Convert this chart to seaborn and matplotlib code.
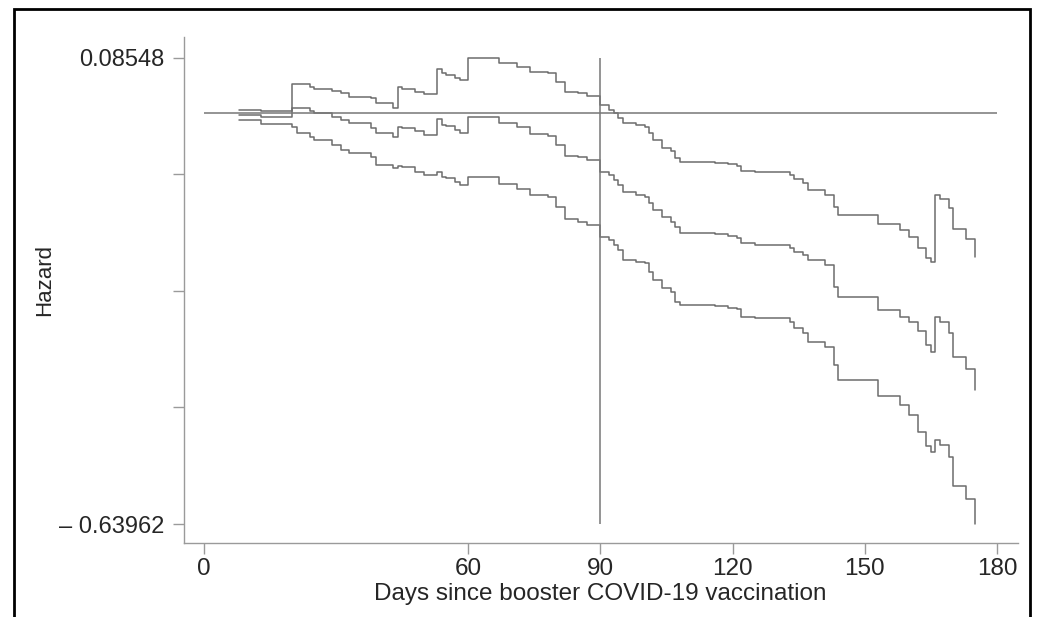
import matplotlib
matplotlib.use("Agg")
import matplotlib.pyplot as plt
import seaborn as sns
import pandas as pd
from matplotlib.patches import Rectangle

# ---- data ----
days = [8, 13, 20, 21, 24, 25, 29, 31, 33, 38,
        39, 43, 44, 45, 48, 50, 53, 54, 55, 57,
        58, 60, 67, 71, 74, 78, 80, 82, 85, 87,
        90, 92, 93, 94, 95, 98, 100, 101, 102, 104,
        106, 107, 108, 116, 119, 121, 122, 125, 133, 134,
        136, 137, 141, 143, 144, 153, 158, 160, 162, 164,
        165, 166, 167, 169, 170, 173, 175]

upper = [0.0042, 0.0031, 0.0446, 0.0446, 0.0404, 0.0368, 0.0342, 0.0301, 0.0249, 0.0224,
         0.0146, 0.0068, 0.0395, 0.0364, 0.0327, 0.0291, 0.0680, 0.0612, 0.0586, 0.0534,
         0.0508, 0.08548, 0.0768, 0.0715, 0.0628, 0.0612, 0.0473, 0.0327, 0.0301, 0.0255,
         0.0120, 0.0042, -0.0010, -0.0087, -0.0165, -0.0190, -0.0227, -0.0320, -0.0425, -0.0554,
         -0.0590, -0.0710, -0.0762, -0.0778, -0.0800, -0.0829, -0.0902, -0.0918, -0.0969, -0.1036,
         -0.1098, -0.1202, -0.1280, -0.1462, -0.1596, -0.1731, -0.1824, -0.1928, -0.2109, -0.2264,
         -0.2317, -0.1280, -0.1347, -0.1487, -0.1813, -0.1969, -0.2239]

estimate = [-0.0041, -0.0072, 0.0068, 0.0068, 0.0031, -0.0010, -0.0072, -0.0114, -0.0165, -0.0243,
            -0.0320, -0.0373, -0.0218, -0.0243, -0.0280, -0.0347, -0.0103, -0.0191, -0.0210, -0.0270,
            -0.0320, -0.0072, -0.0165, -0.0227, -0.0336, -0.0357, -0.0502, -0.0673, -0.0694, -0.0736,
            -0.0918, -0.0969, -0.1047, -0.1124, -0.1228, -0.1280, -0.1306, -0.1409, -0.1513, -0.1617,
            -0.1695, -0.1773, -0.1875, -0.1890, -0.1917, -0.1953, -0.2031, -0.2057, -0.2109, -0.2161,
            -0.2213, -0.2290, -0.2368, -0.2706, -0.2870, -0.3068, -0.3172, -0.3250, -0.3400, -0.3620,
            -0.3720, -0.3182, -0.3250, -0.3430, -0.3804, -0.3990, -0.4312]

lower = [-0.0118, -0.0176, -0.0227, -0.0320, -0.0373, -0.0425, -0.0502, -0.0580, -0.0632, -0.0684,
         -0.0813, -0.0865, -0.0829, -0.0850, -0.0917, -0.0969, -0.0917, -0.0995, -0.1020, -0.1073,
         -0.1124, -0.1005, -0.1109, -0.1192, -0.1280, -0.1306, -0.1462, -0.1658, -0.1695, -0.1747,
         -0.1928, -0.1980, -0.2057, -0.2135, -0.2290, -0.2317, -0.2342, -0.2472, -0.2602, -0.2731,
         -0.2783, -0.2939, -0.2990, -0.3006, -0.3030, -0.3058, -0.3172, -0.3198, -0.3250, -0.3353,
         -0.3420, -0.3561, -0.3639, -0.3923, -0.4156, -0.4405, -0.4545, -0.4701, -0.4960, -0.5183,
         -0.5271, -0.5090, -0.5167, -0.5349, -0.5805, -0.6012, -0.63962]

y_ticks = [0.08548, -0.09580, -0.27707, -0.45835, -0.63962]
y_ticklabels = ["0.08548", "", "", "", "\u2013 0.63962"]
x_ticks = [0, 60, 90, 120, 150, 180]
x_ticklabels = ["0", "60", "90", "120", "150", "180"]
ref_day = 90
ref_hazard = 0.0

# ---- styling ----
sns.set_style("white")
plt.rcParams["font.family"] = ["Liberation Sans", "DejaVu Sans"]
narrow = ["Liberation Sans Narrow", "Liberation Sans", "DejaVu Sans"]

W, H = 1045, 617
fig = plt.figure(figsize=(W / 100, H / 100), dpi=100)
ax = fig.add_axes([184 / W, (H - 543) / H, (1018 - 184) / W, (543 - 37) / H])

df = pd.DataFrame({"day": days, "upper": upper, "estimate": estimate, "lower": lower})
line_col = "#6c6c6c"
for col in ["upper", "estimate", "lower"]:
    sns.lineplot(data=df, x="day", y=col, ax=ax, color=line_col, lw=1.1,
                 drawstyle="steps-post", estimator=None, sort=False)

ax.hlines(ref_hazard, x_ticks[0], x_ticks[-1], color="#777777", lw=1.1)
ax.vlines(ref_day, y_ticks[-1], y_ticks[0], color="#777777", lw=1.1)

# axis ranges (plot region 0-180 and data extremes with margins)
ax.set_xlim(-4.54, 184.77)
ax.set_ylim(-0.66915, 0.11767)

for s in ["top", "right"]:
    ax.spines[s].set_visible(False)
for s in ["left", "bottom"]:
    ax.spines[s].set_color("#9a9a9a")
    ax.spines[s].set_linewidth(1.0)

ax.set_yticks(y_ticks)
ax.set_yticklabels(y_ticklabels, fontsize=17)
ax.set_xticks(x_ticks)
ax.set_xticklabels(x_ticklabels, fontsize=17.5, family=narrow)
ax.tick_params(axis="y", length=8, width=1.0, color="#9a9a9a", pad=6, left=True)
ax.tick_params(axis="x", length=8, width=1.0, color="#9a9a9a", pad=3, bottom=True)

ax.set_xlabel("Days since booster COVID-19 vaccination", fontsize=17.5,
              family=narrow, va="center")
ax.xaxis.set_label_coords((600 - 184) / 834, (543 - 594) / 506)
ax.set_ylabel("Hazard", fontsize=16, va="center")
ax.yaxis.set_label_coords((45 - 184) / 834, (543 - 280) / 506)

# outer black frame (bottom edge falls outside the picture)
fig.patches.append(Rectangle((14 / W, -0.05), (1030 - 14) / W, (H - 9) / H + 0.05,
                             transform=fig.transFigure, fill=False,
                             edgecolor="black", lw=2.0))

fig.savefig("out.png", dpi=100)
